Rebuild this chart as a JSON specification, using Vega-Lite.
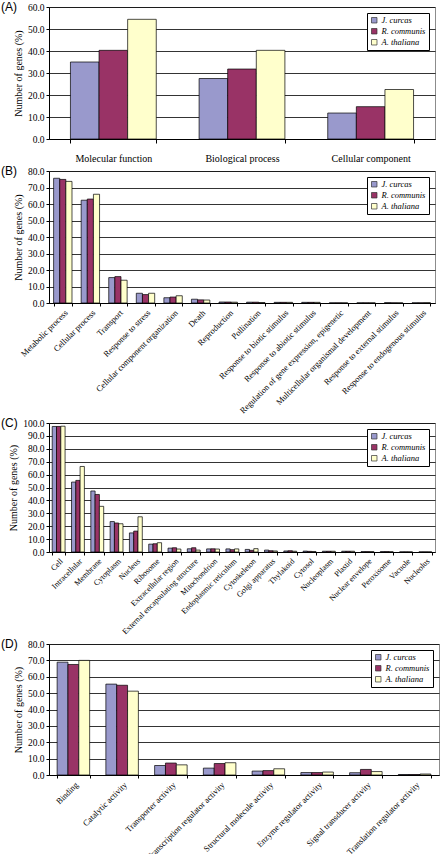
{
  "$schema": "https://vega.github.io/schema/vega-lite/v6.json",
  "padding": {"left": 0, "top": 0, "right": 2, "bottom": 0},
  "config": {
    "font": "Liberation Serif",
    "view": {"stroke": "#8c8c8c", "strokeWidth": 1},
    "axis": {
      "labelFont": "Liberation Serif", "titleFont": "Liberation Serif",
      "labelColor": "#000", "titleColor": "#000", "domainColor": "#000",
      "tickColor": "#000", "gridColor": "#000", "gridOpacity": 1, "gridWidth": 0.8,
      "titleFontWeight": "normal", "labelFontSize": 9.5, "titleFontSize": 10
    },
    "title": {"font": "Liberation Sans", "fontSize": 12, "fontWeight": "normal", "anchor": "start", "frame": "group", "baseline": "top", "offset": 0, "color": "#000"},
    "legend": {
      "orient": "top-right", "offset": 6, "strokeColor": "#000", "fillColor": "#fff",
      "padding": 3, "title": null, "labelFont": "Liberation Serif", "labelFontStyle": "italic",
      "labelFontSize": 8.5, "symbolType": "square", "symbolSize": 30, "symbolStrokeColor": "#333",
      "symbolStrokeWidth": 0.6, "rowPadding": 2, "labelColor": "#000", "symbolOpacity": 1, "labelOffset": 3
    },
    "bar": {"stroke": "#000", "strokeWidth": 0.7}
  },
  "data": {"values": [
    {"panel": "A", "category": "Molecular function", "species": "J. curcas", "value": 35.0},
    {"panel": "A", "category": "Molecular function", "species": "R. communis", "value": 40.3},
    {"panel": "A", "category": "Molecular function", "species": "A. thaliana", "value": 54.4},
    {"panel": "A", "category": "Biological process", "species": "J. curcas", "value": 27.5},
    {"panel": "A", "category": "Biological process", "species": "R. communis", "value": 31.8},
    {"panel": "A", "category": "Biological process", "species": "A. thaliana", "value": 40.3},
    {"panel": "A", "category": "Cellular component", "species": "J. curcas", "value": 11.8},
    {"panel": "A", "category": "Cellular component", "species": "R. communis", "value": 14.7},
    {"panel": "A", "category": "Cellular component", "species": "A. thaliana", "value": 22.5},

    {"panel": "B", "category": "Metabolic process", "species": "J. curcas", "value": 75.6},
    {"panel": "B", "category": "Metabolic process", "species": "R. communis", "value": 74.9},
    {"panel": "B", "category": "Metabolic process", "species": "A. thaliana", "value": 73.7},
    {"panel": "B", "category": "Cellular process", "species": "J. curcas", "value": 62.3},
    {"panel": "B", "category": "Cellular process", "species": "R. communis", "value": 63.0},
    {"panel": "B", "category": "Cellular process", "species": "A. thaliana", "value": 65.9},
    {"panel": "B", "category": "Transport", "species": "J. curcas", "value": 15.4},
    {"panel": "B", "category": "Transport", "species": "R. communis", "value": 16.0},
    {"panel": "B", "category": "Transport", "species": "A. thaliana", "value": 13.8},
    {"panel": "B", "category": "Response to stress", "species": "J. curcas", "value": 5.9},
    {"panel": "B", "category": "Response to stress", "species": "R. communis", "value": 5.1},
    {"panel": "B", "category": "Response to stress", "species": "A. thaliana", "value": 5.9},
    {"panel": "B", "category": "Cellular component organization", "species": "J. curcas", "value": 3.2},
    {"panel": "B", "category": "Cellular component organization", "species": "R. communis", "value": 3.6},
    {"panel": "B", "category": "Cellular component organization", "species": "A. thaliana", "value": 4.4},
    {"panel": "B", "category": "Death", "species": "J. curcas", "value": 2.3},
    {"panel": "B", "category": "Death", "species": "R. communis", "value": 1.9},
    {"panel": "B", "category": "Death", "species": "A. thaliana", "value": 1.8},
    {"panel": "B", "category": "Reproduction", "species": "J. curcas", "value": 0.6},
    {"panel": "B", "category": "Reproduction", "species": "R. communis", "value": 0.6},
    {"panel": "B", "category": "Reproduction", "species": "A. thaliana", "value": 0.5},
    {"panel": "B", "category": "Pollination", "species": "J. curcas", "value": 0.5},
    {"panel": "B", "category": "Pollination", "species": "R. communis", "value": 0.5},
    {"panel": "B", "category": "Pollination", "species": "A. thaliana", "value": 0.3},
    {"panel": "B", "category": "Response to biotic stimulus", "species": "J. curcas", "value": 0.4},
    {"panel": "B", "category": "Response to biotic stimulus", "species": "R. communis", "value": 0.4},
    {"panel": "B", "category": "Response to biotic stimulus", "species": "A. thaliana", "value": 0.4},
    {"panel": "B", "category": "Response to abiotic stimulus", "species": "J. curcas", "value": 0.4},
    {"panel": "B", "category": "Response to abiotic stimulus", "species": "R. communis", "value": 0.4},
    {"panel": "B", "category": "Response to abiotic stimulus", "species": "A. thaliana", "value": 0.4},
    {"panel": "B", "category": "Regulation of gene expression, epigenetic", "species": "J. curcas", "value": 0.1},
    {"panel": "B", "category": "Regulation of gene expression, epigenetic", "species": "R. communis", "value": 0.1},
    {"panel": "B", "category": "Regulation of gene expression, epigenetic", "species": "A. thaliana", "value": 0.1},
    {"panel": "B", "category": "Multicellular organismal development", "species": "J. curcas", "value": 0.1},
    {"panel": "B", "category": "Multicellular organismal development", "species": "R. communis", "value": 0.1},
    {"panel": "B", "category": "Multicellular organismal development", "species": "A. thaliana", "value": 0.1},
    {"panel": "B", "category": "Response to external stimulus", "species": "J. curcas", "value": 0.2},
    {"panel": "B", "category": "Response to external stimulus", "species": "R. communis", "value": 0.1},
    {"panel": "B", "category": "Response to external stimulus", "species": "A. thaliana", "value": 0.1},
    {"panel": "B", "category": "Response to endogenous stimulus", "species": "J. curcas", "value": 0.1},
    {"panel": "B", "category": "Response to endogenous stimulus", "species": "R. communis", "value": 0.1},
    {"panel": "B", "category": "Response to endogenous stimulus", "species": "A. thaliana", "value": 0.2},

    {"panel": "C", "category": "Cell", "species": "J. curcas", "value": 97.3},
    {"panel": "C", "category": "Cell", "species": "R. communis", "value": 97.3},
    {"panel": "C", "category": "Cell", "species": "A. thaliana", "value": 97.5},
    {"panel": "C", "category": "Intracellular", "species": "J. curcas", "value": 54.2},
    {"panel": "C", "category": "Intracellular", "species": "R. communis", "value": 55.5},
    {"panel": "C", "category": "Intracellular", "species": "A. thaliana", "value": 66.3},
    {"panel": "C", "category": "Membrane", "species": "J. curcas", "value": 47.3},
    {"panel": "C", "category": "Membrane", "species": "R. communis", "value": 44.6},
    {"panel": "C", "category": "Membrane", "species": "A. thaliana", "value": 35.4},
    {"panel": "C", "category": "Cytoplasm", "species": "J. curcas", "value": 23.6},
    {"panel": "C", "category": "Cytoplasm", "species": "R. communis", "value": 22.5},
    {"panel": "C", "category": "Cytoplasm", "species": "A. thaliana", "value": 21.9},
    {"panel": "C", "category": "Nucleus", "species": "J. curcas", "value": 14.8},
    {"panel": "C", "category": "Nucleus", "species": "R. communis", "value": 16.2},
    {"panel": "C", "category": "Nucleus", "species": "A. thaliana", "value": 27.3},
    {"panel": "C", "category": "Ribosome", "species": "J. curcas", "value": 6.1},
    {"panel": "C", "category": "Ribosome", "species": "R. communis", "value": 6.4},
    {"panel": "C", "category": "Ribosome", "species": "A. thaliana", "value": 7.2},
    {"panel": "C", "category": "Extracellular region", "species": "J. curcas", "value": 3.0},
    {"panel": "C", "category": "Extracellular region", "species": "R. communis", "value": 3.3},
    {"panel": "C", "category": "Extracellular region", "species": "A. thaliana", "value": 2.3},
    {"panel": "C", "category": "External encapsulating structure", "species": "J. curcas", "value": 2.5},
    {"panel": "C", "category": "External encapsulating structure", "species": "R. communis", "value": 3.3},
    {"panel": "C", "category": "External encapsulating structure", "species": "A. thaliana", "value": 1.5},
    {"panel": "C", "category": "Mitochondrion", "species": "J. curcas", "value": 2.4},
    {"panel": "C", "category": "Mitochondrion", "species": "R. communis", "value": 2.5},
    {"panel": "C", "category": "Mitochondrion", "species": "A. thaliana", "value": 2.3},
    {"panel": "C", "category": "Endoplasmic reticulum", "species": "J. curcas", "value": 2.4},
    {"panel": "C", "category": "Endoplasmic reticulum", "species": "R. communis", "value": 1.8},
    {"panel": "C", "category": "Endoplasmic reticulum", "species": "A. thaliana", "value": 2.4},
    {"panel": "C", "category": "Cytoskeleton", "species": "J. curcas", "value": 2.0},
    {"panel": "C", "category": "Cytoskeleton", "species": "R. communis", "value": 1.3},
    {"panel": "C", "category": "Cytoskeleton", "species": "A. thaliana", "value": 2.6},
    {"panel": "C", "category": "Golgi apparatus", "species": "J. curcas", "value": 1.5},
    {"panel": "C", "category": "Golgi apparatus", "species": "R. communis", "value": 1.0},
    {"panel": "C", "category": "Golgi apparatus", "species": "A. thaliana", "value": 0.8},
    {"panel": "C", "category": "Thylakoid", "species": "J. curcas", "value": 0.8},
    {"panel": "C", "category": "Thylakoid", "species": "R. communis", "value": 1.0},
    {"panel": "C", "category": "Thylakoid", "species": "A. thaliana", "value": 0.6},
    {"panel": "C", "category": "Cytosol", "species": "J. curcas", "value": 0.7},
    {"panel": "C", "category": "Cytosol", "species": "R. communis", "value": 0.5},
    {"panel": "C", "category": "Cytosol", "species": "A. thaliana", "value": 0.4},
    {"panel": "C", "category": "Nucleoplasm", "species": "J. curcas", "value": 0.6},
    {"panel": "C", "category": "Nucleoplasm", "species": "R. communis", "value": 0.6},
    {"panel": "C", "category": "Nucleoplasm", "species": "A. thaliana", "value": 0.6},
    {"panel": "C", "category": "Plastid", "species": "J. curcas", "value": 0.6},
    {"panel": "C", "category": "Plastid", "species": "R. communis", "value": 0.6},
    {"panel": "C", "category": "Plastid", "species": "A. thaliana", "value": 0.6},
    {"panel": "C", "category": "Nuclear envelope", "species": "J. curcas", "value": 0.3},
    {"panel": "C", "category": "Nuclear envelope", "species": "R. communis", "value": 0.3},
    {"panel": "C", "category": "Nuclear envelope", "species": "A. thaliana", "value": 0.3},
    {"panel": "C", "category": "Peroxisome", "species": "J. curcas", "value": 0.3},
    {"panel": "C", "category": "Peroxisome", "species": "R. communis", "value": 0.3},
    {"panel": "C", "category": "Peroxisome", "species": "A. thaliana", "value": 0.2},
    {"panel": "C", "category": "Vacuole", "species": "J. curcas", "value": 0.1},
    {"panel": "C", "category": "Vacuole", "species": "R. communis", "value": 0.1},
    {"panel": "C", "category": "Vacuole", "species": "A. thaliana", "value": 0.1},
    {"panel": "C", "category": "Nucleolus", "species": "J. curcas", "value": 0.1},
    {"panel": "C", "category": "Nucleolus", "species": "R. communis", "value": 0.1},
    {"panel": "C", "category": "Nucleolus", "species": "A. thaliana", "value": 0.1},

    {"panel": "D", "category": "Binding", "species": "J. curcas", "value": 68.9},
    {"panel": "D", "category": "Binding", "species": "R. communis", "value": 67.5},
    {"panel": "D", "category": "Binding", "species": "A. thaliana", "value": 70.0},
    {"panel": "D", "category": "Catalytic activity", "species": "J. curcas", "value": 55.5},
    {"panel": "D", "category": "Catalytic activity", "species": "R. communis", "value": 54.8},
    {"panel": "D", "category": "Catalytic activity", "species": "A. thaliana", "value": 51.2},
    {"panel": "D", "category": "Transporter activity", "species": "J. curcas", "value": 5.8},
    {"panel": "D", "category": "Transporter activity", "species": "R. communis", "value": 7.3},
    {"panel": "D", "category": "Transporter activity", "species": "A. thaliana", "value": 6.2},
    {"panel": "D", "category": "Transcription regulator activity", "species": "J. curcas", "value": 4.2},
    {"panel": "D", "category": "Transcription regulator activity", "species": "R. communis", "value": 7.0},
    {"panel": "D", "category": "Transcription regulator activity", "species": "A. thaliana", "value": 7.5},
    {"panel": "D", "category": "Structural molecule activity", "species": "J. curcas", "value": 2.4},
    {"panel": "D", "category": "Structural molecule activity", "species": "R. communis", "value": 2.7},
    {"panel": "D", "category": "Structural molecule activity", "species": "A. thaliana", "value": 3.8},
    {"panel": "D", "category": "Enzyme regulator activity", "species": "J. curcas", "value": 1.5},
    {"panel": "D", "category": "Enzyme regulator activity", "species": "R. communis", "value": 1.5},
    {"panel": "D", "category": "Enzyme regulator activity", "species": "A. thaliana", "value": 1.8},
    {"panel": "D", "category": "Signal transducer activity", "species": "J. curcas", "value": 1.4},
    {"panel": "D", "category": "Signal transducer activity", "species": "R. communis", "value": 3.4},
    {"panel": "D", "category": "Signal transducer activity", "species": "A. thaliana", "value": 2.1},
    {"panel": "D", "category": "Translation regulator activity", "species": "J. curcas", "value": 0.3},
    {"panel": "D", "category": "Translation regulator activity", "species": "R. communis", "value": 0.3},
    {"panel": "D", "category": "Translation regulator activity", "species": "A. thaliana", "value": 0.6}
  ]},
  "spacing": 0,
  "align": "none",
  "resolve": {"scale": {"color": "independent", "xOffset": "independent"}, "legend": {"color": "independent"}},
  "vconcat": [
    {
      "title": {"text": "(A)", "dx": -48, "dy": 16},
      "width": 386, "height": 132,
      "transform": [{"filter": "datum.panel === 'A'"}],
      "mark": {"type": "bar"},
      "encoding": {
        "x": {"field": "category", "type": "nominal", "sort": null,
              "scale": {"paddingInner": 0.333, "paddingOuter": 0.1667},
              "axis": {"title": null, "labelAngle": 0, "labelFontSize": 10, "labelPadding": 10, "tickBand": "extent", "tickSize": 4, "grid": false}},
        "xOffset": {"field": "species", "type": "nominal", "sort": ["J. curcas", "R. communis", "A. thaliana"], "scale": {"paddingInner": 0, "paddingOuter": 0}},
        "y": {"field": "value", "type": "quantitative", "scale": {"domain": [0, 60], "nice": false},
              "axis": {"title": "Number of genes (%)", "values": [0, 10, 20, 30, 40, 50, 60], "format": ".1f", "tickSize": 3, "grid": true}},
        "color": {"field": "species", "type": "nominal", "sort": ["J. curcas", "R. communis", "A. thaliana"],
                  "scale": {"domain": ["J. curcas", "R. communis", "A. thaliana"], "range": ["#9999cc", "#993366", "#ffffcc"]}}
      }
    },
    {
      "title": {"text": "(B)", "dx": -48, "dy": 16},
      "width": 386, "height": 132,
      "transform": [{"filter": "datum.panel === 'B'"}],
      "mark": {"type": "bar"},
      "encoding": {
        "x": {"field": "category", "type": "nominal", "sort": null,
              "scale": {"paddingInner": 0.333, "paddingOuter": 0.1667},
              "axis": {"title": null, "labelAngle": -45, "labelFontSize": 8.5, "labelPadding": 2, "tickBand": "extent", "tickSize": 3, "grid": false}},
        "xOffset": {"field": "species", "type": "nominal", "sort": ["J. curcas", "R. communis", "A. thaliana"], "scale": {"paddingInner": 0, "paddingOuter": 0}},
        "y": {"field": "value", "type": "quantitative", "scale": {"domain": [0, 80], "nice": false},
              "axis": {"title": "Number of genes (%)", "values": [0, 10, 20, 30, 40, 50, 60, 70, 80], "format": ".1f", "tickSize": 3, "grid": true}},
        "color": {"field": "species", "type": "nominal", "sort": ["J. curcas", "R. communis", "A. thaliana"],
                  "scale": {"domain": ["J. curcas", "R. communis", "A. thaliana"], "range": ["#9999cc", "#993366", "#ffffcc"]}}
      }
    },
    {
      "title": {"text": "(C)", "dx": -48, "dy": 16},
      "width": 386, "height": 129,
      "transform": [{"filter": "datum.panel === 'C'"}],
      "mark": {"type": "bar"},
      "encoding": {
        "x": {"field": "category", "type": "nominal", "sort": null,
              "scale": {"paddingInner": 0.333, "paddingOuter": 0.1667},
              "axis": {"title": null, "labelAngle": -45, "labelFontSize": 8, "labelPadding": 2, "tickBand": "extent", "tickSize": 3, "grid": false}},
        "xOffset": {"field": "species", "type": "nominal", "sort": ["J. curcas", "R. communis", "A. thaliana"], "scale": {"paddingInner": 0, "paddingOuter": 0}},
        "y": {"field": "value", "type": "quantitative", "scale": {"domain": [0, 100], "nice": false},
              "axis": {"title": "Number of genes (%)", "values": [0, 10, 20, 30, 40, 50, 60, 70, 80, 90, 100], "format": ".1f", "tickSize": 3, "grid": true}},
        "color": {"field": "species", "type": "nominal", "sort": ["J. curcas", "R. communis", "A. thaliana"],
                  "scale": {"domain": ["J. curcas", "R. communis", "A. thaliana"], "range": ["#9999cc", "#993366", "#ffffcc"]}}
      }
    },
    {
      "title": {"text": "(D)", "dx": -48, "dy": 16},
      "width": 390, "height": 131,
      "transform": [{"filter": "datum.panel === 'D'"}],
      "mark": {"type": "bar"},
      "encoding": {
        "x": {"field": "category", "type": "nominal", "sort": null,
              "scale": {"paddingInner": 0.333, "paddingOuter": 0.1667},
              "axis": {"title": null, "labelAngle": -45, "labelFontSize": 8.5, "labelPadding": 2, "tickBand": "extent", "tickSize": 3, "grid": false}},
        "xOffset": {"field": "species", "type": "nominal", "sort": ["J. curcas", "R. communis", "A. thaliana"], "scale": {"paddingInner": 0, "paddingOuter": 0}},
        "y": {"field": "value", "type": "quantitative", "scale": {"domain": [0, 80], "nice": false},
              "axis": {"title": "Number of genes (%)", "values": [0, 10, 20, 30, 40, 50, 60, 70, 80], "format": ".1f", "tickSize": 3, "grid": true}},
        "color": {"field": "species", "type": "nominal", "sort": ["J. curcas", "R. communis", "A. thaliana"],
                  "scale": {"domain": ["J. curcas", "R. communis", "A. thaliana"], "range": ["#9999cc", "#993366", "#ffffcc"]}}
      }
    }
  ]
}
